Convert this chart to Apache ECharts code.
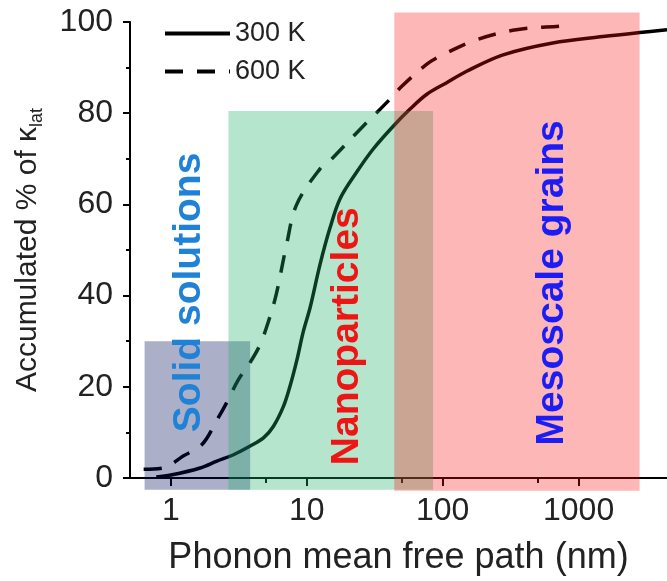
<!DOCTYPE html>
<html>
<head>
<meta charset="utf-8">
<script src="https://cdn.jsdelivr.net/npm/echarts@6/dist/echarts.min.js"></script>
<style>
html,body{margin:0;padding:0;background:#fff;}
#c{width:667px;height:581px;}
</style>
</head>
<body>
<div id="c"></div>
<script>
// ---- data ----
const seriesNames = ['300 K', '600 K'];
// 300 K: [mean free path (nm), accumulated %]
const mfp300 = [0.78, 1, 1.64, 2.18, 2.89, 3.83, 4.8, 5.67, 6.73, 7.5, 8.44, 9.4, 10.6, 12.5, 14.8, 17.6, 23.3, 30.9, 43.4, 57.5, 76, 107, 150, 278, 645, 1510, 2820, 4470];
const acc300 = [0.2, 0.65, 2.2, 3.7, 5.1, 7, 8.8, 11.3, 15.7, 20, 25.8, 32, 37.5, 46.8, 54.8, 61.3, 67.1, 72.2, 77.2, 80.9, 84.1, 86.7, 89.2, 92.8, 95.4, 96.8, 97.7, 98.3];
// 600 K
const mfp600 = [0.63, 0.88, 1.23, 1.7, 2.19, 2.59, 3.13, 3.84, 4.54, 5.19, 5.95, 7.1, 8.4, 12.5, 14.8, 24.7, 39.8, 50, 76, 100, 178, 348, 730, 835];
const acc600 = [1.9, 2.2, 4.8, 7.4, 12.8, 16.7, 21.5, 25.4, 29.3, 34.1, 40.2, 51.2, 59.9, 67.8, 69.6, 76.5, 82.7, 85.9, 90.7, 92.8, 96.1, 98.3, 99.1, 99.2];
// shaded regimes
const regionNames = ['Solid solutions', 'Nanoparticles', 'Mesoscale grains'];
const regionXStart = [0.64, 2.65, 44];
const regionXEnd = [3.83, 85, 2810];
const regionYStart = [-2.6, -2.6, -2.8];
const regionYEnd = [30, 80.5, 102.1];
// label anchors (data coordinates)
const labelX = [1.36, 19.8, 637];
const labelY = [40.7, 31.1, 42.8];
// ticks
const xTickLabels = [1, 10, 100, 1000];
const xMinorTicks = [5, 50, 500];

// ---- styles ----
const FONT = '"Liberation Sans", Arial, sans-serif';
const regionFill = ['rgba(0,15,88,0.33)', 'rgba(33,176,103,0.33)', 'rgba(250,17,17,0.30)'];
const labelColor = ['#1f82d6', '#ee1515', '#1c1cf5'];

const zip = (a, b) => a.map((v, i) => [v, b[i]]);

const chart = echarts.init(document.getElementById('c'), null, {renderer: 'canvas'});
chart.setOption({
  animation: false,
  backgroundColor: '#fff',
  textStyle: {fontFamily: FONT},
  grid: {left: 130, right: 0, top: 22, bottom: 99, containLabel: false},
  legend: {
    orient: 'vertical', left: 158, top: 15,
    itemWidth: 65, itemHeight: 20, itemGap: 11,
    itemStyle: {opacity: 0},
    lineStyle: {width: 4},
    textStyle: {fontSize: 27, color: '#222', fontFamily: FONT},
    data: seriesNames
  },
  xAxis: [{
    type: 'log', logBase: 10, min: 0.5, max: 4470,
    position: 'bottom',
    axisLine: {show: true, lineStyle: {color: '#000', width: 2}},
    axisTick: {show: true, customValues: xTickLabels, length: 8, lineStyle: {color: '#000', width: 2}},
    axisLabel: {customValues: xTickLabels, fontSize: 32, color: '#222', margin: 17, fontFamily: FONT,
      formatter: v => String(Math.round(v))},
    splitLine: {show: false},
    minorTick: {show: false},
    name: 'Phonon mean free path (nm)',
    nameLocation: 'middle', nameGap: 62,
    nameTextStyle: {fontSize: 36, color: '#222', fontFamily: FONT}
  }, {
    type: 'log', logBase: 10, min: 0.5, max: 4470,
    position: 'bottom',
    axisLine: {show: false},
    axisTick: {show: true, customValues: xMinorTicks, length: 5, lineStyle: {color: '#000', width: 2}},
    axisLabel: {show: false},
    splitLine: {show: false}
  }],
  yAxis: {
    type: 'value', min: 0, max: 100, interval: 20,
    axisLine: {show: true, lineStyle: {color: '#000', width: 2}},
    axisTick: {show: true, length: 7, lineStyle: {color: '#000', width: 2}},
    minorTick: {show: true, splitNumber: 2, length: 4, lineStyle: {color: '#000', width: 2}},
    axisLabel: {fontSize: 32, color: '#222', margin: 17, fontFamily: FONT},
    splitLine: {show: false},
    name: 'Accumulated % of {k|κ}{s|lat}',
    nameLocation: 'middle', nameGap: 84, nameRotate: 90,
    nameTextStyle: {
      fontSize: 30, color: '#222', fontFamily: FONT, lineHeight: 36,
      rich: {
        k: {fontSize: 30, color: '#222', fontFamily: FONT, lineHeight: 36, verticalAlign: 'middle'},
        s: {fontSize: 18, color: '#222', fontFamily: FONT, lineHeight: 20, verticalAlign: 'bottom'}
      }
    }
  },
  series: [{
    name: seriesNames[0], type: 'line', xAxisIndex: 0,
    data: zip(mfp300, acc300), symbol: 'none', smooth: 0.35, z: 2,
    lineStyle: {color: '#000', width: 3.5, type: 'solid'},
    itemStyle: {color: '#000'}
  }, {
    name: seriesNames[1], type: 'line', xAxisIndex: 0,
    data: zip(mfp600, acc600), symbol: 'none', smooth: 0.35, z: 2,
    lineStyle: {color: '#000', width: 3.5, type: [18, 14]},
    itemStyle: {color: '#000'}
  }, {
    type: 'custom', xAxisIndex: 0, z: 3, clip: false, silent: true,
    data: regionNames.map((n, i) => [regionXStart[i], regionXEnd[i], regionYStart[i], regionYEnd[i]]),
    encode: {x: [0, 1], y: [2, 3]},
    renderItem: (params, api) => {
      const p0 = api.coord([api.value(0), api.value(3)]);
      const p1 = api.coord([api.value(1), api.value(2)]);
      return {
        type: 'rect',
        shape: {x: p0[0], y: p0[1], width: p1[0] - p0[0], height: p1[1] - p0[1]},
        style: {fill: regionFill[params.dataIndex]}
      };
    }
  }, {
    type: 'custom', xAxisIndex: 0, z: 4, clip: false, silent: true,
    data: regionNames.map((n, i) => [labelX[i], labelY[i]]),
    encode: {x: 0, y: 1},
    renderItem: (params, api) => {
      const p = api.coord([api.value(0), api.value(1)]);
      return {
        type: 'text', x: p[0], y: p[1], rotation: Math.PI / 2,
        style: {
          text: regionNames[params.dataIndex],
          fill: labelColor[params.dataIndex],
          font: 'bold 39px ' + FONT,
          align: 'center', verticalAlign: 'middle'
        }
      };
    }
  }]
});
</script>
</body>
</html>
